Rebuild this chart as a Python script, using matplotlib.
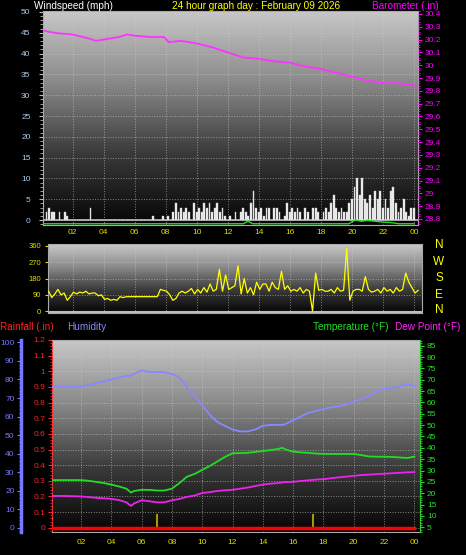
import numpy as np
import matplotlib
matplotlib.use("Agg")
import matplotlib.pyplot as plt
from matplotlib.ticker import MultipleLocator
from matplotlib.colors import LinearSegmentedColormap

plt.rcParams['font.family'] = ['Liberation Sans', 'DejaVu Sans']

# ---------------- data ----------------
hour_labels = ["02","04","06","08","10","12","14","16","18","20","22","00"]
label_hours = [2,4,6,8,10,12,14,16,18,20,22,24]

baro_hours = [0.2,0.5,1,2,3,3.5,4,5,5.5,6,7,7.9,8.2,9,10,11,12,13,14,15,16,17,18,19,20,21,22,23,24]
baro_vals  = [30.27,30.26,30.25,30.24,30.21,30.19,30.20,30.22,30.24,30.23,30.22,30.22,30.18,30.19,30.17,30.14,30.10,30.06,30.05,30.03,30.02,29.99,29.97,29.94,29.91,29.88,29.86,29.86,29.84]

wind_speed = [0,2,3,2,2,0, 2,0,2,1,0,0, 0,0,0,0,0,0, 3,0,0,0,0,0,
              0,0,0,0,0,0, 0,0,0,0,0,0, 0,0,0,0,0,0, 1,0,0,0,1,0,
              1,0,2,4,2,3, 2,3,2,0,4,2, 3,2,4,3,4,2, 3,4,2,3,1,0,
              1,0,2,0,2,3, 2,1,4,7,3,2, 3,1,3,3,0,3, 3,2,0,1,4,2,
              3,2,3,2,0,3, 2,0,3,3,2,0, 2,3,2,4,6,3, 2,3,2,2,4,5,
              8,10,6,10,5,4, 6,3,7,5,7,3, 5,3,7,8,4,2, 3,5,2,1,3,3]
wind_gust_hours = [0,13,13.3,13.6,14,19.8,20.2,20.6,21,21.5,22,22.5,23,24]
wind_gust_vals  = [0,0,0.6,0,0,0,0.9,0.6,0.8,0.6,0.4,0.3,0,0]

dir_vals = [110,75,95,120,90, 100,60,80,105,95, 105,100,110,95,100, 100,85,90,65,70, 60,65,60,80,75,
            80,80,80,80,80, 80,80,80,80,80, 80,120,115,110,90, 60,70,100,110,100, 110,125,95,120,100,
            130,105,150,110,120, 230,110,200,120,130, 140,250,95,180,100, 130,90,160,120,150,
            150,110,160,130,120, 220,120,140,110,120, 110,130,100,120,110, 0,210,115,120,110,
            110,120,100,130,110, 115,345,60,110,120, 120,110,190,120,105, 110,120,100,130,110,
            120,100,130,110,120, 210,160,130,100,115]

env_hours = [0,1,2,2.5,3,3.5,4,4.5,5,5.3,5.5,6,6.5,7,7.5,8,8.5,9,9.5,10,10.5,11,11.5,12,12.5,13,13.5,14,14.5,15,15.3,15.5,16,16.5,17,17.5,18,18.5,19,19.5,20,20.5,21,21.5,22,22.5,23,23.5,24]
humidity = [76,76,76,77,78,79,80,81,82,82,83,85,84,84,84,83,81,76,71,66,61,57,55,53,52,52,53,55,55.5,55.5,55.5,56,58,60,62,63,64,65,65.5,66.5,68,69.5,71,73.5,75,75.5,76,77.5,76.5]
temperature = [25.8,25.8,25.8,25.5,25,24.5,23.8,23,22,20.3,21,21.5,21.5,21.2,21.2,22,24.5,27.3,28.5,30.3,32,34,36,37.6,37.7,37.8,38.2,38.6,39,39.5,40,39.3,38.3,38,37.8,37.5,37.3,37.3,37.3,37.3,37.3,36.8,36.2,36.1,36.1,36,35.8,35.5,36.1]
dewpoint = [18.8,18.8,18.6,18.3,18,17.8,17.5,17,16,14.4,15.5,16.9,16.5,16,16,16.9,17.5,18.4,19,20.1,20.5,21,21.3,21.5,22,22.5,23.2,23.8,24.2,24.5,24.8,24.9,25,25.4,25.7,26,26.2,26.6,27,27.3,27.7,28,28.2,28.4,28.6,28.8,29,29.2,29.3]
rain_hours = [0,24]
rain_vals = [0,0]
marker_hours = [7.0,17.3]
marker_vals = [0.09,0.09]

W, H = 466, 555
fig = plt.figure(figsize=(W/100, H/100), dpi=100, facecolor="black")

def rect(x0, y0, x1, y1):
    return [x0/W, 1-y1/H, (x1-x0)/W, (y1-y0)/H]

grad = np.linspace(0, 1, 256).reshape(-1, 1)
cm = LinearSegmentedColormap.from_list("g", ["#050505", "#3a3a3a", "#8a8a8a", "#c8c8c8"])

def background(ax):
    ax.imshow(grad, extent=[0,1,0,1], transform=ax.transAxes, aspect="auto",
              cmap=cm, origin="lower", zorder=0)

def style_x(ax, xlim, show=True):
    ax.set_xlim(*xlim)
    ax.set_xticks(label_hours)
    if show:
        ax.set_xticklabels(hour_labels, color="#dddd00", fontsize=6)
    else:
        ax.set_xticklabels([])
    ax.tick_params(axis="x", length=0, pad=3)
    ax.grid(True, axis="both", color="#cccccc", linestyle=":", linewidth=0.7, alpha=0.6)

FS = 6
TF = 7.2
# ---------------- top panel ----------------
ax1 = fig.add_axes(rect(43, 11, 418, 225))
ax1.set_facecolor("black")
background(ax1)
style_x(ax1, (0.1, 24.25))
ax1.set_ylim(-1.2, 50.24)
ax1.set_yticks(range(0, 51, 5))
ax1.yaxis.set_minor_locator(MultipleLocator(1))
ax1.tick_params(axis="y", colors="#bbbbbb", labelcolor="#aaccee", labelsize=FS, length=3, pad=6)
ax1.tick_params(axis="y", which="minor", colors="#bbbbbb", length=2)
wind_t = np.arange(len(wind_speed)) / 6.0 + 0.1
ax1.bar(wind_t, wind_speed, width=0.12, color="#f0f0f0", edgecolor="#d0d0d0", linewidth=0.3, zorder=3, align="edge")
ax1.axhline(0, color="#bbbbbb", lw=1.2, zorder=2)
ax1.plot(wind_gust_hours, np.array(wind_gust_vals) - 0.9, color="#22dd22", lw=1.0, zorder=4)
for s in ax1.spines.values():
    s.set_color("#aaaaaa")
ax1b = ax1.twinx()
ax1b.set_ylim(28.753, 30.423)
bt = np.round(np.arange(28.8, 30.41, 0.1), 1)
ax1b.set_yticks(bt)
ax1b.set_yticklabels([f"{v:g}" for v in bt])
ax1b.yaxis.set_minor_locator(MultipleLocator(0.02))
ax1b.tick_params(axis="y", colors="#ff00ff", labelsize=FS, length=3, pad=2)
ax1b.tick_params(axis="y", which="minor", colors="#ff00ff", length=1.5)
ax1b.plot(baro_hours, baro_vals, color="#ff33ff", lw=1.3, zorder=5)
for s in ax1b.spines.values():
    s.set_visible(False)

fig.text(34/W, 1-6/H, "Windspeed (mph)", color="white", fontsize=TF, va="center")
fig.text(172/W, 1-6/H, "24 hour graph day : February 09 2026", color="#ffff00", fontsize=TF, va="center")
fig.text(372/W, 1-6/H, "Barometer (.in)", color="#ff00ff", fontsize=TF, va="center")

# ---------------- middle panel ----------------
ax2 = fig.add_axes(rect(48, 244, 422, 313))
ax2.set_facecolor("black")
background(ax2)
style_x(ax2, (0.41, 24.5), show=False)
ax2.set_ylim(-10, 370)
ax2.set_yticks([0, 90, 180, 270, 360])
ax2.tick_params(axis="y", colors="#dddd00", labelsize=5.5, length=2, pad=3)
dir_t = np.arange(len(dir_vals)) / 5.0 + 0.45
ax2.plot(dir_t, dir_vals, color="#ffff00", lw=0.9, zorder=3)
ax2.axhline(-5, color="#bbbbbb", lw=1.5, zorder=2)
for s in ax2.spines.values():
    s.set_color("#aaaaaa")
for lab, y in zip(["N", "W", "S", "E", "N"], [245, 262, 278, 295, 310]):
    fig.text(439/W, 1-y/H, lab, color="#ffff00", fontsize=8.5, ha="center", va="center")

# ---------------- bottom panel ----------------
ax3 = fig.add_axes(rect(52, 340, 420, 532))
ax3.set_facecolor("black")
background(ax3)
style_x(ax3, (0.09, 24.37))
ax3.tick_params(axis="x", pad=5)
ax3.set_ylim(-0.027, 1.198)
rt = np.round(np.arange(0, 1.21, 0.1), 1)
ax3.set_yticks(rt)
ax3.set_yticklabels([f"{v:g}" for v in rt])
ax3.yaxis.set_minor_locator(MultipleLocator(0.02))
ax3.tick_params(axis="y", colors="#ff2222", labelsize=FS, length=3, pad=2)
ax3.tick_params(axis="y", which="minor", colors="#ff2222", length=1.5)
ax3.spines["left"].set_color("#ff3333")
ax3.spines["left"].set_linestyle("--")
for k in ["top", "right", "bottom"]:
    ax3.spines[k].set_color("#aaaaaa")
ax3.plot(rain_hours, rain_vals, color="#ff0000", lw=2.5, zorder=6)
ax3.vlines(marker_hours, 0, marker_vals, color="#bbaa00", lw=1.3, zorder=5)

axh = ax3.twinx()
axh.yaxis.set_label_position("left")
axh.yaxis.tick_left()
axh.spines["left"].set_position(("outward", 22))
axh.spines["left"].set_color("#7777ff")
axh.spines["left"].set_linewidth(2.5)
for k in ["top", "right", "bottom"]:
    axh.spines[k].set_visible(False)
axh.set_ylim(-2.3, 101.3)
axh.set_yticks(range(0, 101, 10))
axh.yaxis.set_minor_locator(MultipleLocator(2))
axh.tick_params(axis="y", colors="#7777ff", labelsize=FS, length=3, pad=2)
axh.tick_params(axis="y", which="minor", colors="#7777ff", length=1.5)
axh.plot(env_hours, humidity, color="#8888ff", lw=1.3, zorder=5)

axt = ax3.twinx()
for k in ["top", "left", "bottom"]:
    axt.spines[k].set_visible(False)
axt.spines["right"].set_color("#22cc22")
axt.set_ylim(2.93, 87.5)
axt.set_yticks(range(5, 86, 5))
axt.yaxis.set_minor_locator(MultipleLocator(1))
axt.tick_params(axis="y", colors="#22dd22", labelsize=FS, length=3, pad=2)
axt.tick_params(axis="y", which="minor", colors="#22dd22", length=1.5)
axt.plot(env_hours, temperature, color="#22dd22", lw=1.3, zorder=5)
axt.plot(env_hours, dewpoint, color="#ee22ee", lw=1.3, zorder=5)

fig.text(0/W, 1-327/H, "Rainfall (.in)", color="#ff2222", fontsize=TF, va="center")
fig.text(67/W, 1-327/H, "Humidity", color="#8888ff", fontsize=TF, va="center")
fig.text(313/W, 1-327/H, "Temperature (°F)", color="#22dd22", fontsize=TF, va="center")
fig.text(395/W, 1-327/H, "Dew Point (°F)", color="#ff22ff", fontsize=TF, va="center")

fig.savefig("out.png", dpi=100, facecolor="black")
